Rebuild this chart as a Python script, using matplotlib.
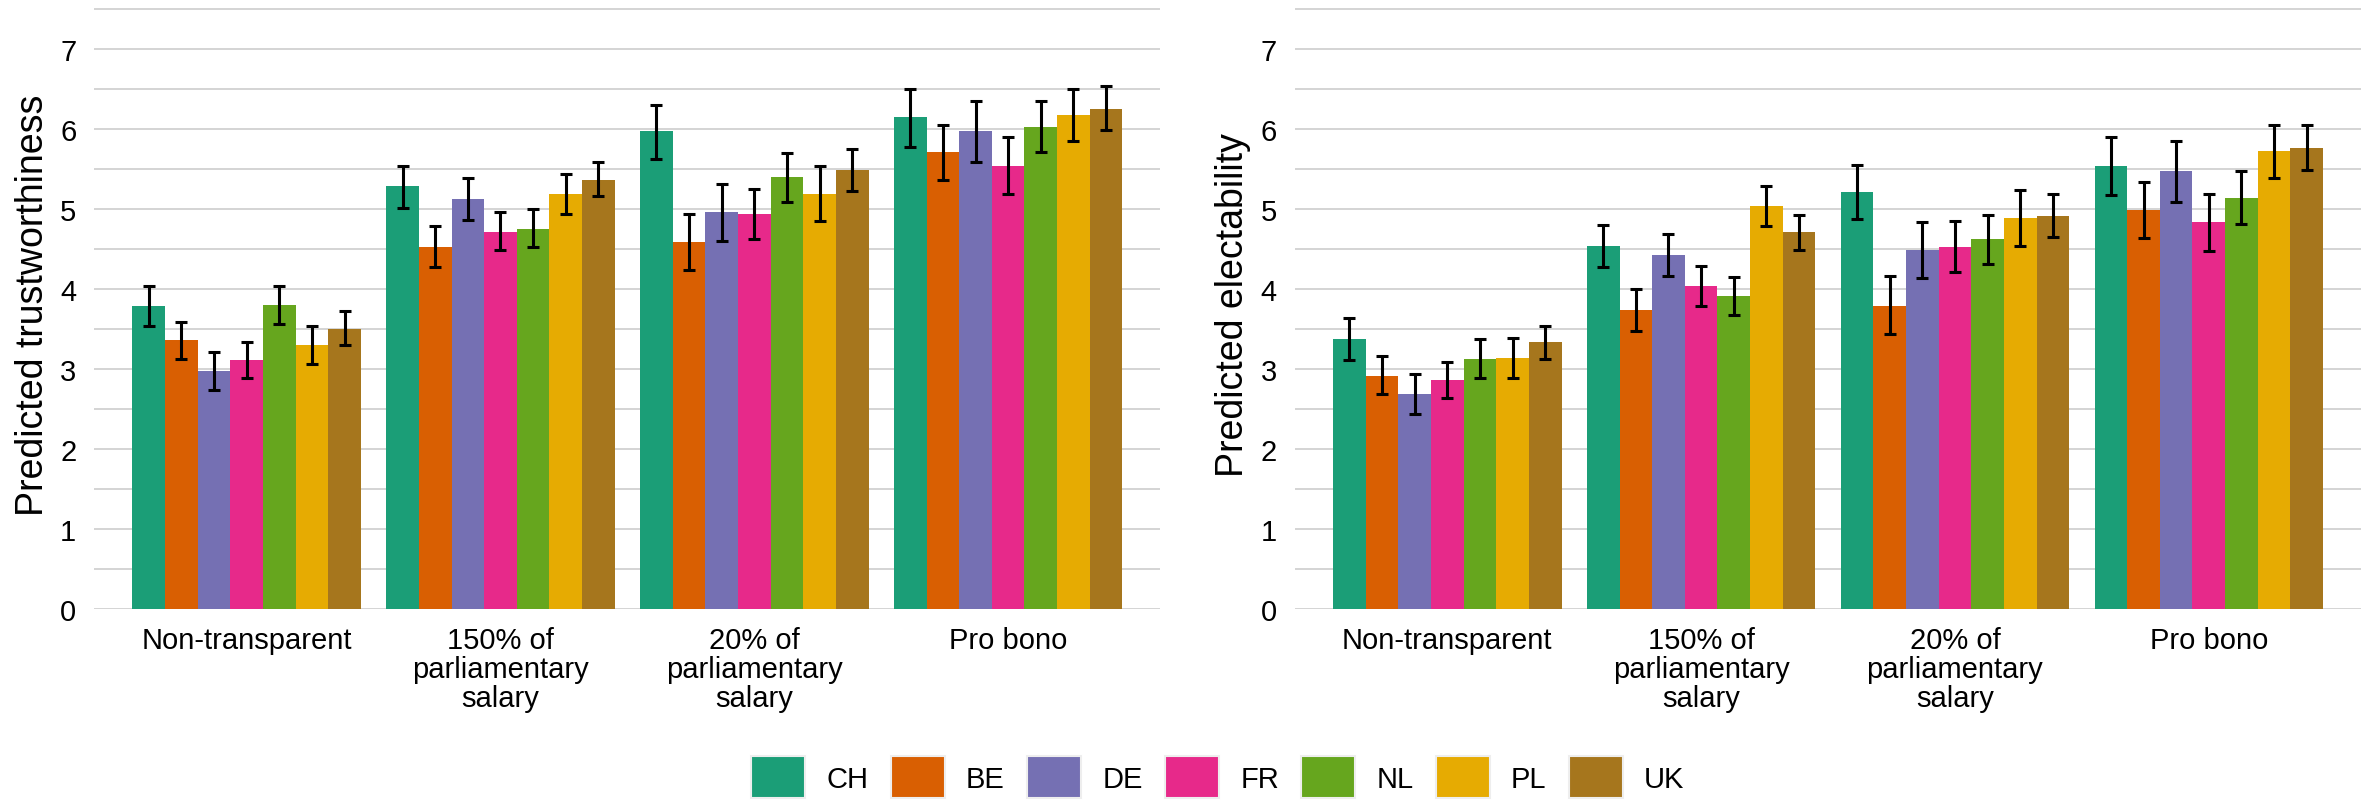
import matplotlib.pyplot as plt
from matplotlib.patches import Patch
import numpy as np

plt.rcParams['font.family'] = ['Liberation Sans', 'DejaVu Sans']

categories = ["Non-transparent", "150% of\nparliamentary\nsalary",
              "20% of\nparliamentary\nsalary", "Pro bono"]
countries = ["CH", "BE", "DE", "FR", "NL", "PL", "UK"]
colors = ["#1B9E77", "#D95F02", "#7570B3", "#E7298A", "#66A61E", "#E6AB02", "#A6761D"]

# predicted trustworthiness, one row per country, one column per category
trust_mean = [[3.78, 5.28, 5.97, 6.14],
              [3.36, 4.52, 4.58, 5.71],
              [2.97, 5.12, 4.96, 5.97],
              [3.11, 4.71, 4.94, 5.53],
              [3.80, 4.75, 5.40, 6.02],
              [3.30, 5.19, 5.19, 6.17],
              [3.50, 5.36, 5.49, 6.25]]
trust_lo = [[3.53, 5.01, 5.62, 5.77],
            [3.12, 4.27, 4.23, 5.36],
            [2.73, 4.86, 4.60, 5.59],
            [2.89, 4.48, 4.62, 5.18],
            [3.56, 4.52, 5.09, 5.71],
            [3.06, 4.94, 4.85, 5.84],
            [3.30, 5.16, 5.22, 5.98]]
trust_hi = [[4.04, 5.54, 6.30, 6.50],
            [3.59, 4.79, 4.94, 6.05],
            [3.21, 5.38, 5.31, 6.34],
            [3.33, 4.96, 5.25, 5.89],
            [4.04, 5.00, 5.70, 6.35],
            [3.54, 5.44, 5.53, 6.50],
            [3.72, 5.58, 5.75, 6.53]]

# predicted electability
elect_mean = [[3.37, 4.53, 5.21, 5.53],
              [2.91, 3.74, 3.79, 4.99],
              [2.69, 4.42, 4.48, 5.47],
              [2.86, 4.03, 4.52, 4.83],
              [3.12, 3.91, 4.62, 5.14],
              [3.14, 5.04, 4.89, 5.72],
              [3.33, 4.71, 4.91, 5.76]]
elect_lo = [[3.11, 4.27, 4.87, 5.17],
            [2.68, 3.47, 3.44, 4.64],
            [2.44, 4.16, 4.13, 5.09],
            [2.64, 3.79, 4.21, 4.47],
            [2.89, 3.67, 4.31, 4.81],
            [2.89, 4.78, 4.53, 5.38],
            [3.12, 4.49, 4.65, 5.49]]
elect_hi = [[3.63, 4.80, 5.55, 5.90],
            [3.16, 4.00, 4.16, 5.34],
            [2.93, 4.68, 4.83, 5.85],
            [3.08, 4.28, 4.85, 5.19],
            [3.37, 4.15, 4.92, 5.47],
            [3.39, 5.29, 5.23, 6.05],
            [3.54, 4.92, 5.18, 6.05]]


def draw(ax, means, lo, hi, ylabel):
    x = np.arange(1, len(categories) + 1)
    bw = 0.9 / len(countries)
    for i in range(len(countries)):
        pos = x + (i - 3) * bw
        m = np.array(means[i])
        ax.bar(pos, m, bw, color=colors[i], zorder=2)
        ax.errorbar(pos, m, yerr=[m - np.array(lo[i]), np.array(hi[i]) - m],
                    fmt='none', ecolor='black', elinewidth=2.2,
                    capsize=4, capthick=2.2, zorder=3)
    ax.set_xlim(0.4, 4.6)
    ax.set_ylim(0, 7.62)
    ax.set_yticks(range(8))
    ax.set_yticks(np.arange(0.5, 7.6, 1.0), minor=True)
    ax.grid(axis='y', which='both', color='#D4D4D4', lw=1.4)
    ax.set_axisbelow(True)
    for s in ax.spines.values():
        s.set_visible(False)
    ax.set_xticks(x)
    ax.set_xticklabels(categories, linespacing=1.05)
    ax.tick_params(axis='both', which='both', length=0, labelsize=21)
    ax.tick_params(axis='y', pad=13)
    ax.tick_params(axis='x', pad=12)
    ax.set_ylabel(ylabel, fontsize=27)
    ax.yaxis.set_label_coords(-0.041, 0.5)


fig = plt.figure(figsize=(23.77, 8.04), dpi=100)
ax1 = fig.add_axes([0.0397, 0.2413, 0.4485, 0.7587])
ax2 = fig.add_axes([0.5448, 0.2413, 0.4485, 0.7587])

draw(ax1, trust_mean, trust_lo, trust_hi, "Predicted trustworthiness")
draw(ax2, elect_mean, elect_lo, elect_hi, "Predicted electability")

handles = [Patch(facecolor=c, edgecolor='#EEEEEE', linewidth=1.5) for c in colors]
fig.legend(handles, countries, loc='center', bbox_to_anchor=(0.5123, 0.032),
           ncol=7, frameon=False, fontsize=21, handlelength=1.85, handleheight=1.85,
           handletextpad=0.73, columnspacing=0.76, borderpad=0, borderaxespad=0)

fig.savefig('out.png', dpi=100)
